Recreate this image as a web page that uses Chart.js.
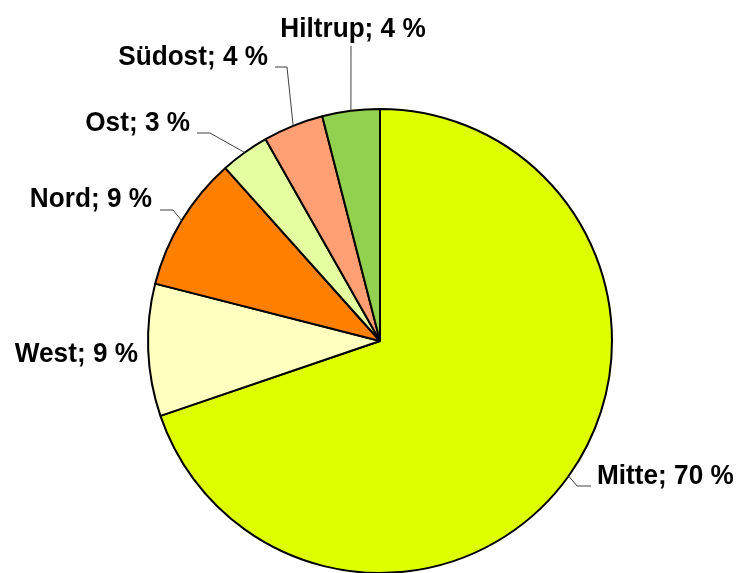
<!DOCTYPE html>
<html>
<head>
<meta charset="utf-8">
<script src="https://cdn.jsdelivr.net/npm/chart.js@4.4.0/dist/chart.umd.min.js"></script>
<style>
  html, body { margin: 0; padding: 0; background: #ffffff; }
  #wrap { width: 740px; height: 573px; position: relative; }
</style>
</head>
<body>
<div id="wrap"><canvas id="c" width="740" height="573"></canvas></div>
<script>
// ---- data ----
const categories = ["Mitte", "West", "Nord", "Ost", "Südost", "Hiltrup"];
const shares = [69.7, 9.2, 9.4, 3.4, 4.2, 4.0];
const sliceColors = ["#DDFF00", "#FFFFC0", "#FF8000", "#E3FF9F", "#FF9F73", "#92D050"];

// ---- label layout (text anchor, alignment, leader elbow/end) ----
const labelLayout = [
  { tx: 597, ty: 484, align: "left",   elbow: [577, 486], end: [591, 486] },
  { tx: 138, ty: 362, align: "right",  elbow: null,       end: null },
  { tx: 152, ty: 207, align: "right",  elbow: [173, 210], end: [160, 210] },
  { tx: 190, ty: 131, align: "right",  elbow: [210, 133], end: [197, 133] },
  { tx: 268, ty: 65,  align: "right",  elbow: [287, 67],  end: [275, 67] },
  { tx: 353, ty: 37,  align: "center", elbow: [351, 46],  end: null }
];

const total = shares.reduce((a, b) => a + b, 0);
const labelTexts = categories.map((c, i) => c + "; " + Math.round(shares[i] / total * 100) + " %");

const labelPlugin = {
  id: "pieLabels",
  afterDraw(chart) {
    const ctx = chart.ctx;
    const meta = chart.getDatasetMeta(0);
    meta.data.forEach((arc, i) => {
      const L = labelLayout[i];
      const mid = (arc.startAngle + arc.endAngle) / 2;
      const ex = arc.x + Math.cos(mid) * arc.outerRadius;
      const ey = arc.y + Math.sin(mid) * arc.outerRadius;
      if (L.elbow) {
        ctx.save();
        ctx.strokeStyle = "#404040";
        ctx.lineWidth = 1;
        ctx.beginPath();
        ctx.moveTo(ex, ey);
        ctx.lineTo(L.elbow[0], L.elbow[1]);
        if (L.end) ctx.lineTo(L.end[0], L.end[1]);
        ctx.stroke();
        ctx.restore();
      }
      ctx.save();
      ctx.translate(L.tx, L.ty);
      ctx.scale(0.935, 1);
      ctx.font = "bold 28px 'Liberation Sans', Arial, sans-serif";
      ctx.fillStyle = "#000000";
      ctx.textAlign = L.align;
      ctx.textBaseline = "alphabetic";
      ctx.fillText(labelTexts[i], 0, 0);
      ctx.restore();
    });
  }
};

new Chart(document.getElementById("c"), {
  type: "pie",
  data: {
    labels: categories,
    datasets: [{
      data: shares,
      backgroundColor: sliceColors,
      borderColor: "#000000",
      borderWidth: 2,
      hoverOffset: 0
    }]
  },
  options: {
    responsive: false,
    animation: false,
    radius: 232,
    layout: { padding: { left: 20, right: 0, top: 109, bottom: 0 } },
    plugins: {
      legend: { display: false },
      tooltip: { enabled: false }
    }
  },
  plugins: [labelPlugin]
});
</script>
</body>
</html>
